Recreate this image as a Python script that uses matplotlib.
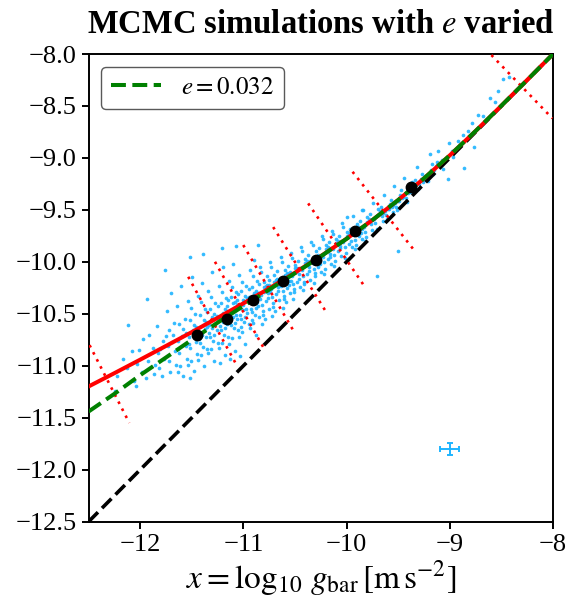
"""
RAR panel: MCMC mock data with the external-field parameter e varied.
Binned means, orthogonal bin edges and the fitted relations on top.
"""

import matplotlib
matplotlib.use("Agg")
import matplotlib.pyplot as plt

plt.rcParams["font.family"] = "serif"
plt.rcParams["font.serif"] = ["Liberation Serif", "DejaVu Serif"]
plt.rcParams["mathtext.fontset"] = "stix"

# Fitted RAR (g_dagger = 1.2e-10), log10 values
rar_x = [-12.5, -12.25, -12.0, -11.75, -11.5, -11.25, -11.0, -10.75, -10.5, -10.25,
         -10.0, -9.75, -9.5, -9.25, -9.0, -8.75, -8.5, -8.25, -8.0]
rar_y = [-11.199, -11.071, -10.941, -10.809, -10.676, -10.539, -10.399, -10.255, -10.104, -9.945,
         -9.777, -9.598, -9.405, -9.197, -8.975, -8.741, -8.497, -8.250, -8.0]

# Best fit with the external field, e = 0.032
efe_x = rar_x
efe_y = [-11.44, -11.27, -11.09, -10.92, -10.75, -10.585, -10.425, -10.267, -10.109, -9.947,
         -9.778, -9.598, -9.405, -9.197, -8.975, -8.741, -8.497, -8.250, -8.0]

# Binned means along the relation
bin_x = [-11.45, -11.16, -10.91, -10.62, -10.30, -9.92, -9.38]
bin_y = [-10.70, -10.55, -10.37, -10.18, -9.98, -9.70, -9.28]

# Bin edges, drawn orthogonal to the RAR
edge_x0 = [-12.49, -11.534, -11.275, -11.001, -10.711, -10.372, -9.942, -8.597]
edge_y0 = [-10.801, -10.143, -9.999, -9.838, -9.665, -9.437, -9.133, -8.010]
edge_x1 = [-12.105, -11.065, -10.791, -10.501, -10.191, -9.823, -9.339, -8.006]
edge_y1 = [-11.549, -10.993, -10.849, -10.685, -10.493, -10.240, -9.896, -8.619]

# Typical measurement uncertainty
err_x, err_y = -9.0, -11.8
err_dx, err_dy = 0.09, 0.06

# Simulated galaxy points (log g_bar, log g_obs)
cloud_x = [
    -12.22, -12.17, -12.24,
    -12.13, -12.08, -12.06, -12.12,
    -12.03, -11.98, -12.01, -11.97, -12.04,
    -11.93, -11.92, -11.88, -11.87, -11.91, -11.86, -11.94,
    -11.83, -11.78, -11.82, -11.77, -11.84, -11.79, -11.76, -11.81, -11.75,
    -11.73, -11.68, -11.72, -11.67, -11.71, -11.66, -11.74, -11.69, -11.65, -11.70, -11.72,
    -11.63, -11.58, -11.62, -11.57, -11.61, -11.56, -11.64, -11.59, -11.55, -11.60, -11.62, -11.58, -11.63, -11.56,
    -11.53, -11.48, -11.52, -11.47, -11.51, -11.46, -11.54, -11.49, -11.45, -11.50, -11.52, -11.48, -11.53, -11.46,
    -11.51, -11.47, -11.54,
    -11.43, -11.38, -11.42, -11.37, -11.41, -11.36, -11.44, -11.39, -11.35, -11.40, -11.42, -11.38, -11.43, -11.36,
    -11.41, -11.37, -11.44, -11.39, -11.35, -11.40,
    -11.33, -11.28, -11.32, -11.27, -11.31, -11.26, -11.34, -11.29, -11.25, -11.30, -11.32, -11.28, -11.33, -11.26,
    -11.31, -11.27, -11.34, -11.29, -11.25, -11.30, -11.32, -11.28,
    -11.23, -11.18, -11.22, -11.17, -11.21, -11.16, -11.24, -11.19, -11.15, -11.20, -11.22, -11.18, -11.23, -11.16,
    -11.21, -11.17, -11.24, -11.19, -11.15, -11.20, -11.22, -11.18, -11.16, -11.23,
    -11.13, -11.08, -11.12, -11.07, -11.11, -11.06, -11.14, -11.09, -11.05, -11.10, -11.12, -11.08, -11.13, -11.06,
    -11.11, -11.07, -11.14, -11.09, -11.05, -11.10, -11.12, -11.08, -11.06, -11.13,
    -11.03, -10.98, -11.02, -10.97, -11.01, -10.96, -11.04, -10.99, -10.95, -11.00, -11.02, -10.98, -11.03, -10.96,
    -11.01, -10.97, -11.04, -10.99, -10.95, -11.00, -11.02, -10.98, -11.03,
    -10.93, -10.88, -10.92, -10.87, -10.91, -10.86, -10.94, -10.89, -10.85, -10.90, -10.92, -10.88, -10.93, -10.86,
    -10.91, -10.87, -10.94, -10.89, -10.85, -10.90, -10.92, -10.88,
    -10.83, -10.78, -10.82, -10.77, -10.81, -10.76, -10.84, -10.79, -10.75, -10.80, -10.82, -10.78, -10.83, -10.76,
    -10.81, -10.77, -10.84, -10.79, -10.75, -10.80,
    -10.73, -10.68, -10.72, -10.67, -10.71, -10.66, -10.74, -10.69, -10.65, -10.70, -10.72, -10.68, -10.73, -10.66,
    -10.71, -10.67, -10.74, -10.69, -10.65,
    -10.63, -10.58, -10.62, -10.57, -10.61, -10.56, -10.64, -10.59, -10.55, -10.60, -10.62, -10.58, -10.63, -10.56,
    -10.61, -10.57, -10.64, -10.59,
    -10.53, -10.48, -10.52, -10.47, -10.51, -10.46, -10.54, -10.49, -10.45, -10.50, -10.52, -10.48, -10.53, -10.46,
    -10.51, -10.47, -10.54,
    -10.43, -10.38, -10.42, -10.37, -10.41, -10.36, -10.44, -10.39, -10.35, -10.40, -10.42, -10.38, -10.43, -10.36,
    -10.41, -10.37,
    -10.33, -10.28, -10.32, -10.27, -10.31, -10.26, -10.34, -10.29, -10.25, -10.30, -10.32, -10.28, -10.33, -10.26,
    -10.31,
    -10.23, -10.18, -10.22, -10.17, -10.21, -10.16, -10.24, -10.19, -10.15, -10.20, -10.22, -10.18, -10.23, -10.16,
    -10.13, -10.08, -10.12, -10.07, -10.11, -10.06, -10.14, -10.09, -10.05, -10.10, -10.12, -10.08, -10.13, -10.06,
    -10.03, -9.98, -10.02, -9.97, -10.01, -9.96, -10.04, -9.99, -9.95, -10.00, -10.02, -9.98, -10.03,
    -9.93, -9.88, -9.92, -9.87, -9.91, -9.86, -9.94, -9.89, -9.85, -9.90, -9.92, -9.88,
    -9.83, -9.78, -9.82, -9.77, -9.81, -9.76, -9.84, -9.79, -9.75, -9.80, -9.82,
    -9.73, -9.68, -9.72, -9.67, -9.71, -9.66, -9.74, -9.69, -9.65, -9.70,
    -9.63, -9.58, -9.62, -9.57, -9.61, -9.56, -9.64, -9.59, -9.55,
    -9.53, -9.48, -9.52, -9.47, -9.51, -9.46, -9.54, -9.49,
    -9.43, -9.38, -9.42, -9.37, -9.41, -9.36, -9.44, -9.39,
    -9.33, -9.28, -9.32, -9.27, -9.31, -9.26, -9.34,
    -9.23, -9.18, -9.19, -9.17, -9.21, -9.16,
    -9.13, -9.08, -9.11, -9.07, -9.12,
    -9.02, -8.98, -9.01, -8.97,
    -8.92, -8.87, -8.86,
    -8.82, -8.77, -8.78,
    -8.73, -8.68,
    -8.61, -8.56,
    -8.53, -8.48,
    -8.43,
    -11.52, -11.39, -11.21, -11.07, -10.86, -11.52, -11.63, -9.71, -9.50, -10.00, -9.85,
    # tight core hugging the relation
    -11.35, -11.25, -11.15, -11.05, -10.95, -10.85, -10.75, -10.65, -10.55, -10.45,
    -10.35, -10.25, -10.15, -10.05, -9.95, -9.85, -9.75, -9.65, -9.55, -9.45,
    -9.35, -9.25, -9.15, -9.05,
    -11.30, -11.20, -11.10, -11.00, -10.90, -10.80, -10.70, -10.60, -10.50, -10.40,
    -10.30, -10.20, -10.10, -10.00, -9.90, -9.80, -9.70, -9.60, -9.50, -9.40,
    -9.30, -9.20, -9.10,
]
cloud_y = [
    -11.10, -10.93, -11.24,
    -11.02, -10.86, -11.15, -10.61,
    -10.98, -11.06, -10.85, -10.74, -11.19,
    -10.36, -10.95, -10.83, -11.08, -10.70, -10.99, -11.12,
    -10.88, -10.76, -11.02, -10.93, -10.62, -11.10, -10.08, -10.84, -10.71,
    -10.81, -10.70, -10.95, -10.59, -11.06, -10.86, -10.47, -10.77, -10.99, -10.30, -10.66,
    -10.76, -10.65, -10.88, -10.55, -11.00, -10.81, -10.42, -10.71, -10.93, -10.23, -10.60, -11.10, -10.84, -10.68,
    -10.72, -10.61, -10.83, -10.50, -10.95, -10.77, -10.38, -10.66, -10.89, -10.15, -10.56, -11.05, -10.79, -10.63,
    -10.44, -10.70, -10.99,
    -10.67, -10.56, -10.78, -10.45, -10.90, -10.72, -10.33, -10.61, -10.84, -10.20, -10.51, -11.00, -10.74, -10.58,
    -10.39, -10.65, -10.94, -10.82, -10.48, -10.70,
    -10.61, -10.50, -10.72, -10.40, -10.84, -10.66, -10.28, -10.55, -10.78, -10.10, -10.45, -10.95, -10.68, -10.52,
    -10.34, -10.60, -10.88, -10.76, -10.42, -10.64, -10.57, -10.70,
    -10.55, -10.45, -10.66, -10.35, -10.78, -10.60, -10.23, -10.50, -10.72, -10.05, -10.40, -10.90, -10.62, -10.47,
    -10.29, -10.56, -10.83, -10.70, -10.37, -10.58, -10.51, -10.64, -10.42, -10.97,
    -10.50, -10.39, -10.61, -10.29, -10.73, -10.55, -10.18, -10.44, -10.66, -10.02, -10.34, -10.86, -10.57, -10.41,
    -10.24, -10.51, -10.79, -10.64, -10.31, -10.53, -10.46, -10.59, -10.37, -10.93,
    -10.44, -10.33, -10.55, -10.23, -10.67, -10.49, -10.13, -10.38, -10.60, -10.46, -10.28, -10.79, -10.51, -10.35,
    -10.19, -10.45, -10.72, -10.58, -10.26, -10.41, -10.63, -10.53, -10.91,
    -10.38, -10.28, -10.48, -10.18, -10.59, -10.42, -10.08, -10.33, -10.53, -9.98, -10.24, -10.70, -10.45, -10.30,
    -10.14, -10.39, -10.64, -10.51, -10.21, -10.36, -10.56, -10.44,
    -10.32, -10.23, -10.41, -10.14, -10.51, -10.35, -10.05, -10.27, -10.45, -10.19, -10.60, -10.38, -10.10, -10.30,
    -10.47, -10.22, -10.36, -10.55, -10.17, -10.29,
    -10.26, -10.17, -10.34, -10.09, -10.43, -10.28, -10.00, -10.21, -10.37, -10.13, -10.52, -10.31, -10.05, -10.24,
    -10.40, -10.16, -10.29, -10.47, -10.19,
    -10.20, -10.11, -10.28, -10.04, -10.36, -10.22, -9.95, -10.16, -10.30, -10.08, -10.44, -10.25, -10.00, -10.18,
    -10.33, -10.12, -10.23, -10.39,
    -10.14, -10.06, -10.21, -9.99, -10.29, -10.16, -9.91, -10.10, -10.24, -10.03, -10.36, -10.19, -9.96, -10.12,
    -10.26, -10.07, -10.18,
    -10.08, -9.99, -10.14, -9.93, -10.21, -10.09, -9.86, -10.03, -10.17, -9.97, -10.27, -10.12, -9.90, -10.05,
    -10.19, -10.01,
    -10.01, -9.93, -10.07, -9.87, -10.14, -10.02, -9.81, -9.96, -10.10, -9.90, -10.20, -10.05, -9.84, -9.98,
    -10.11,
    -9.95, -9.86, -10.00, -9.81, -10.07, -9.95, -9.75, -9.90, -10.02, -9.84, -10.12, -9.97, -9.78, -9.92,
    -9.88, -9.80, -9.93, -9.75, -9.99, -9.87, -9.70, -9.83, -9.94, -9.78, -10.04, -9.90, -9.73, -9.85,
    -9.81, -9.73, -9.86, -9.68, -9.91, -9.80, -9.63, -9.76, -9.86, -9.71, -9.96, -9.83, -9.66,
    -9.74, -9.66, -9.79, -9.61, -9.84, -9.72, -9.56, -9.69, -9.78, -9.64, -9.88, -9.75,
    -9.66, -9.59, -9.71, -9.54, -9.76, -9.64, -9.50, -9.62, -9.69, -9.57, -9.80,
    -9.59, -9.51, -9.63, -9.47, -9.68, -9.56, -9.43, -9.54, -9.61, -9.49,
    -9.51, -9.44, -9.55, -9.40, -9.59, -9.47, -9.36, -9.49, -9.52,
    -9.43, -9.36, -9.47, -9.31, -9.50, -9.39, -9.27, -9.41,
    -9.35, -9.28, -9.39, -9.23, -9.42, -9.31, -9.19, -9.33,
    -9.26, -9.20, -9.09, -9.15, -9.30, -9.23, -9.21,
    -9.17, -9.12, -8.96, -9.06, -9.22, -9.15,
    -9.08, -9.02, -8.93, -9.11, -9.04,
    -9.20, -8.93, -8.86, -8.99,
    -8.84, -8.78, -9.10,
    -8.74, -8.89, -8.66,
    -8.59, -8.60,
    -8.42, -8.46,
    -8.36, -8.24,
    -8.22,
    -9.95, -9.92, -9.87, -9.85, -9.84, -11.12, -11.06, -10.14, -9.90, -9.57, -9.50,
    # tight core hugging the relation
    -10.63, -10.55, -10.50, -10.43, -10.34, -10.30, -10.22, -10.18, -10.10, -10.06,
    -9.99, -9.93, -9.87, -9.80, -9.73, -9.68, -9.60, -9.53, -9.45, -9.38,
    -9.29, -9.21, -9.12, -9.03,
    -10.53, -10.49, -10.40, -10.37, -10.30, -10.24, -10.19, -10.13, -10.06, -10.01,
    -9.95, -9.88, -9.82, -9.75, -9.69, -9.62, -9.55, -9.49, -9.41, -9.34,
    -9.25, -9.17, -9.07,
]


def plot_panel():
    fig = plt.figure(figsize=(5.73, 5.97), dpi=100)
    ax = fig.add_axes([0.1545, 0.1261, 0.8106, 0.7834])

    ax.plot([-12.5, -8.0], [-12.5, -8.0], color="black", linestyle="--",
            linewidth=2.6, zorder=2)
    ax.scatter(cloud_x, cloud_y, s=7, color="#1eb4ff", alpha=0.9,
               linewidths=0, zorder=1)

    for x0, y0, x1, y1 in zip(edge_x0, edge_y0, edge_x1, edge_y1):
        ax.plot([x0, x1], [y0, y1], color="red", linestyle=(0, (1, 2)),
                linewidth=1.9, zorder=3)

    ax.plot(rar_x, rar_y, color="red", linewidth=2.9, zorder=4)
    ax.plot(efe_x, efe_y, color="green", linestyle="--", linewidth=2.9,
            zorder=5, label=r"$e = 0.032$")
    ax.plot(bin_x, bin_y, "o", color="black", markersize=7.5, zorder=6)

    ax.errorbar(err_x, err_y, xerr=err_dx, yerr=err_dy, color="#1eb4ff",
                capsize=2.5, elinewidth=1.4, capthick=1.4, zorder=6)

    ax.set_xlim(-12.5, -8.0)
    ax.set_ylim(-12.5, -8.0)
    ax.set_xticks([-12, -11, -10, -9, -8])
    ax.set_yticks([-12.5, -12.0, -11.5, -11.0, -10.5, -10.0, -9.5, -9.0, -8.5, -8.0])
    ax.tick_params(labelsize=19, width=1.4, length=5, direction="out")
    for sp in ax.spines.values():
        sp.set_linewidth(1.4)

    ax.set_xlabel(r"$x = \log_{10}\,g_{\rm bar}\,[{\rm m\,s}^{-2}]$",
                  fontsize=24, labelpad=2)
    ax.set_title(r"MCMC simulations with $e$ varied", fontsize=23.5,
                 fontweight="bold", pad=15)

    leg = ax.legend(loc="upper left", fontsize=18, handlelength=2.0,
                    fancybox=True, framealpha=1.0)
    leg.get_frame().set_edgecolor("0.35")
    leg.get_frame().set_linewidth(1.0)

    fig.savefig("out.png", dpi=100)
    plt.close(fig)


if __name__ == "__main__":
    plot_panel()
